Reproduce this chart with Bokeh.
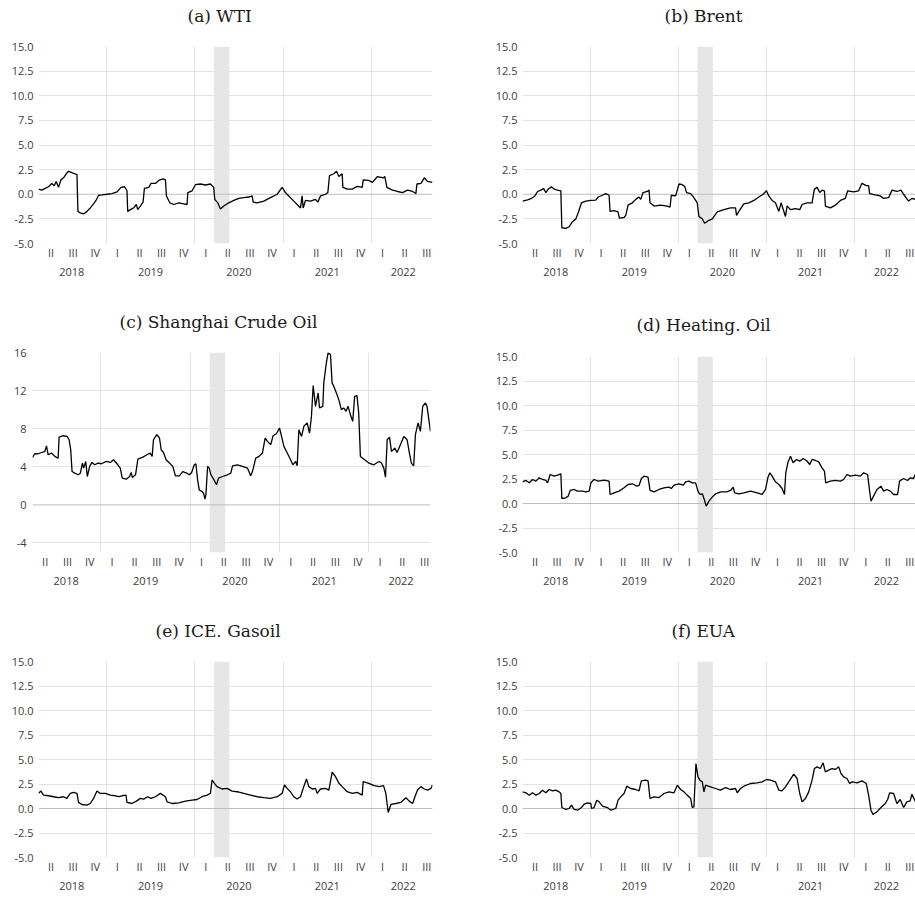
from bokeh.plotting import figure
from bokeh.layouts import column, row
from bokeh.models import (Range1d, FixedTicker, LinearAxis, CustomJSTickFormatter,
                          NumeralTickFormatter, BoxAnnotation, Span, Title)
from bokeh.embed import file_html
from bokeh.resources import INLINE

# ---------------- data ----------------
X_START, X_END = 2018.233, 2022.69
COVID_START, COVID_END = 2020.218, 2020.392

quarter_ticks = [2018.375, 2018.625, 2018.875, 2019.125, 2019.375, 2019.625, 2019.875,
                 2020.125, 2020.375, 2020.625, 2020.875, 2021.125, 2021.375, 2021.625,
                 2021.875, 2022.125, 2022.375, 2022.625]
quarter_labels = ["II", "III", "IV", "I", "II", "III", "IV", "I", "II", "III", "IV",
                  "I", "II", "III", "IV", "I", "II", "III"]
year_ticks = [2018.61, 2019.5, 2020.5, 2021.5, 2022.36]
year_labels = ["2018", "2019", "2020", "2021", "2022"]
year_bounds = [2019, 2020, 2021, 2022]

std_yticks = [-5.0, -2.5, 0.0, 2.5, 5.0, 7.5, 10.0, 12.5, 15.0]
std_ygrid = [-2.5, 2.5, 5.0, 7.5, 10.0, 12.5]
sc_yticks = [-4, 0, 4, 8, 12, 16]
sc_ygrid = [-4, 4, 8, 12]

wti = [(2018.233,0.52),(2018.271,0.42),(2018.309,0.60),(2018.346,0.76),(2018.384,1.10),(2018.411,0.87),(2018.433,1.30),(2018.460,0.70),(2018.486,1.46),(2018.516,1.67),(2018.547,2.08),(2018.573,2.33),(2018.611,2.19),(2018.668,2.00),(2018.679,-1.74),(2018.705,-1.90),(2018.743,-2.00),(2018.781,-1.74),(2018.819,-1.39),(2018.856,-0.97),(2018.883,-0.63),(2018.913,-0.10),(2018.951,-0.07),(2019.008,0.00),(2019.064,0.07),(2019.121,0.24),(2019.166,0.70),(2019.208,0.76),(2019.234,0.35),(2019.242,-1.74),(2019.272,-1.56),(2019.310,-1.39),(2019.340,-1.04),(2019.355,-1.56),(2019.385,-1.20),(2019.416,-0.80),(2019.431,0.60),(2019.480,0.70),(2019.506,1.10),(2019.555,1.10),(2019.593,1.40),(2019.642,1.56),(2019.669,1.46),(2019.680,-0.17),(2019.718,-0.87),(2019.763,-1.04),(2019.820,-0.87),(2019.876,-0.97),(2019.914,-1.04),(2019.922,0.17),(2019.971,0.35),(2020.008,0.97),(2020.064,1.04),(2020.121,0.94),(2020.178,1.04),(2020.215,0.70),(2020.227,-0.52),(2020.261,-0.87),(2020.291,-1.49),(2020.329,-1.20),(2020.385,-0.87),(2020.442,-0.63),(2020.499,-0.42),(2020.555,-0.35),(2020.612,-0.28),(2020.650,-0.17),(2020.661,-0.80),(2020.706,-0.87),(2020.782,-0.70),(2020.857,-0.35),(2020.933,0.00),(2020.989,0.70),(2021.026,0.17),(2021.064,-0.17),(2021.121,-0.70),(2021.159,-1.04),(2021.197,-1.39),(2021.215,-0.17),(2021.227,-1.39),(2021.253,-0.63),(2021.310,-0.70),(2021.366,-0.52),(2021.393,-0.80),(2021.423,-0.17),(2021.480,0.00),(2021.506,0.17),(2021.525,1.90),(2021.574,2.08),(2021.604,2.33),(2021.631,1.80),(2021.668,2.08),(2021.676,0.70),(2021.725,0.52),(2021.782,0.52),(2021.838,0.80),(2021.895,0.70),(2021.906,1.46),(2021.970,1.40),(2022.011,1.20),(2022.068,1.80),(2022.136,1.67),(2022.151,1.80),(2022.174,0.70),(2022.238,0.42),(2022.295,0.28),(2022.351,0.17),(2022.408,0.42),(2022.465,0.28),(2022.502,0.07),(2022.514,1.04),(2022.559,1.10),(2022.597,1.67),(2022.634,1.30),(2022.690,1.20)]

brent = [(2018.233,-0.69),(2018.291,-0.56),(2018.328,-0.45),(2018.374,-0.17),(2018.404,0.28),(2018.442,0.42),(2018.472,0.59),(2018.498,0.17),(2018.525,0.52),(2018.562,0.76),(2018.592,0.52),(2018.630,0.42),(2018.668,0.35),(2018.679,-3.40),(2018.725,-3.47),(2018.762,-3.30),(2018.800,-2.78),(2018.838,-2.50),(2018.868,-1.80),(2018.902,-0.87),(2018.951,-0.69),(2019.008,-0.63),(2019.064,-0.59),(2019.091,-0.28),(2019.140,-0.10),(2019.177,0.07),(2019.215,-0.10),(2019.226,-1.74),(2019.272,-1.67),(2019.317,-1.80),(2019.332,-2.43),(2019.385,-2.36),(2019.404,-2.15),(2019.430,-1.11),(2019.479,-0.87),(2019.517,-0.52),(2019.555,-0.28),(2019.574,-0.52),(2019.600,0.17),(2019.649,0.28),(2019.668,0.42),(2019.679,-0.87),(2019.725,-1.20),(2019.800,-1.11),(2019.875,-1.20),(2019.906,-1.32),(2019.921,-0.10),(2019.970,-0.17),(2020.008,1.04),(2020.045,0.97),(2020.072,0.80),(2020.094,0.17),(2020.140,0.07),(2020.177,-0.35),(2020.215,-0.87),(2020.234,-2.26),(2020.272,-2.50),(2020.298,-2.95),(2020.336,-2.71),(2020.385,-2.50),(2020.442,-1.80),(2020.517,-1.56),(2020.592,-1.39),(2020.649,-1.39),(2020.660,-2.15),(2020.687,-1.74),(2020.743,-0.97),(2020.800,-0.87),(2020.857,-0.63),(2020.913,-0.28),(2020.962,0.00),(2021.000,0.35),(2021.026,-0.17),(2021.064,-0.63),(2021.102,-0.87),(2021.140,-1.74),(2021.166,-0.87),(2021.215,-2.26),(2021.234,-1.20),(2021.272,-1.56),(2021.328,-1.46),(2021.377,-1.56),(2021.404,-1.04),(2021.460,-0.87),(2021.517,-0.87),(2021.543,0.52),(2021.574,0.70),(2021.604,0.17),(2021.630,0.42),(2021.657,0.35),(2021.668,-1.20),(2021.725,-1.39),(2021.781,-1.11),(2021.838,-0.63),(2021.894,-0.42),(2021.921,0.35),(2021.989,0.24),(2022.045,0.35),(2022.083,1.11),(2022.132,0.87),(2022.158,0.87),(2022.170,0.07),(2022.234,-0.07),(2022.291,-0.17),(2022.328,-0.42),(2022.385,-0.35),(2022.423,0.42),(2022.479,0.28),(2022.525,0.42),(2022.555,0.00),(2022.611,-0.69),(2022.649,-0.42),(2022.690,-0.52)]

shanghai = [(2018.233,4.98),(2018.259,5.37),(2018.297,5.37),(2018.334,5.50),(2018.371,5.60),(2018.390,6.20),(2018.408,5.26),(2018.445,5.44),(2018.483,5.09),(2018.520,4.90),(2018.531,7.12),(2018.576,7.26),(2018.620,7.19),(2018.643,6.84),(2018.661,5.79),(2018.676,3.50),(2018.706,3.33),(2018.743,3.16),(2018.769,3.33),(2018.792,4.39),(2018.806,3.86),(2018.829,4.56),(2018.847,2.98),(2018.873,4.04),(2018.900,4.46),(2018.929,4.21),(2018.967,4.39),(2019.004,4.32),(2019.060,4.56),(2019.104,4.46),(2019.141,4.74),(2019.179,4.32),(2019.216,3.86),(2019.238,2.81),(2019.283,2.70),(2019.320,2.98),(2019.339,3.40),(2019.350,2.88),(2019.387,3.16),(2019.413,4.81),(2019.469,5.02),(2019.514,5.26),(2019.551,5.44),(2019.573,5.09),(2019.588,6.84),(2019.625,7.37),(2019.655,7.02),(2019.674,5.79),(2019.700,5.50),(2019.729,4.74),(2019.767,4.39),(2019.804,4.04),(2019.834,3.05),(2019.878,3.05),(2019.916,3.50),(2019.960,3.33),(2019.990,3.16),(2020.015,3.40),(2020.045,4.21),(2020.063,4.32),(2020.082,2.63),(2020.100,1.58),(2020.130,1.40),(2020.149,1.23),(2020.164,0.60),(2020.175,1.05),(2020.194,4.04),(2020.212,3.86),(2020.231,3.16),(2020.261,2.70),(2020.294,2.11),(2020.316,2.81),(2020.361,2.98),(2020.417,3.16),(2020.454,3.33),(2020.473,4.10),(2020.528,4.21),(2020.584,4.04),(2020.640,3.86),(2020.677,3.05),(2020.696,3.50),(2020.733,4.91),(2020.770,5.09),(2020.808,5.44),(2020.838,7.02),(2020.864,6.67),(2020.901,6.32),(2020.927,7.26),(2020.964,7.47),(2021.000,8.07),(2021.022,7.19),(2021.048,6.14),(2021.086,5.44),(2021.123,4.74),(2021.149,4.21),(2021.179,4.56),(2021.197,4.10),(2021.216,7.89),(2021.246,7.19),(2021.272,8.25),(2021.309,8.60),(2021.335,7.54),(2021.357,9.30),(2021.376,12.53),(2021.402,10.35),(2021.432,11.75),(2021.447,10.18),(2021.484,10.35),(2021.495,12.81),(2021.521,14.74),(2021.543,15.96),(2021.570,15.79),(2021.588,12.81),(2021.607,12.46),(2021.633,11.82),(2021.663,11.05),(2021.692,10.00),(2021.718,10.18),(2021.744,9.82),(2021.767,10.35),(2021.793,9.47),(2021.819,8.77),(2021.841,11.40),(2021.867,11.47),(2021.886,9.65),(2021.905,5.09),(2021.942,4.81),(2022.000,4.39),(2022.056,4.21),(2022.112,4.56),(2022.141,4.39),(2022.167,3.86),(2022.186,2.91),(2022.205,6.84),(2022.231,7.12),(2022.253,5.61),(2022.290,5.96),(2022.316,5.50),(2022.353,6.32),(2022.391,7.19),(2022.428,6.84),(2022.454,5.44),(2022.476,4.39),(2022.502,4.10),(2022.521,7.37),(2022.551,8.60),(2022.577,7.72),(2022.603,10.35),(2022.633,10.70),(2022.651,10.35),(2022.690,7.72)]

heating_oil = [(2018.233,2.21),(2018.272,2.35),(2018.309,2.11),(2018.347,2.45),(2018.385,2.28),(2018.423,2.62),(2018.460,2.45),(2018.498,2.35),(2018.517,2.11),(2018.547,2.96),(2018.592,2.79),(2018.630,2.89),(2018.668,3.03),(2018.679,0.51),(2018.725,0.58),(2018.751,0.75),(2018.774,1.33),(2018.819,1.43),(2018.857,1.26),(2018.913,1.26),(2018.951,1.19),(2018.989,1.26),(2019.008,2.11),(2019.045,2.45),(2019.091,2.28),(2019.158,2.38),(2019.215,2.28),(2019.226,0.92),(2019.272,1.09),(2019.328,1.26),(2019.385,1.60),(2019.430,1.94),(2019.479,2.01),(2019.528,1.77),(2019.555,1.84),(2019.581,2.55),(2019.611,2.79),(2019.657,2.69),(2019.679,1.33),(2019.725,1.19),(2019.781,1.43),(2019.838,1.60),(2019.894,1.67),(2019.921,1.53),(2019.951,1.87),(2020.008,2.01),(2020.057,1.87),(2020.083,2.21),(2020.121,2.28),(2020.158,2.11),(2020.196,2.11),(2020.223,1.26),(2020.245,0.92),(2020.272,0.99),(2020.291,0.51),(2020.317,-0.27),(2020.347,0.24),(2020.385,0.65),(2020.423,0.99),(2020.479,1.19),(2020.547,1.19),(2020.592,1.33),(2020.623,1.67),(2020.638,1.09),(2020.687,0.99),(2020.743,1.09),(2020.819,1.26),(2020.894,1.09),(2020.951,0.92),(2020.989,1.43),(2021.015,2.62),(2021.038,3.13),(2021.064,2.79),(2021.102,2.21),(2021.140,1.94),(2021.177,1.53),(2021.204,0.92),(2021.219,3.13),(2021.242,4.15),(2021.272,4.83),(2021.302,4.15),(2021.340,4.49),(2021.377,4.32),(2021.415,4.59),(2021.453,4.39),(2021.491,3.98),(2021.517,4.49),(2021.555,4.39),(2021.592,4.25),(2021.630,3.64),(2021.657,3.30),(2021.672,2.11),(2021.725,2.28),(2021.781,2.35),(2021.838,2.28),(2021.875,2.45),(2021.913,2.96),(2021.951,2.79),(2022.008,2.89),(2022.064,2.79),(2022.102,3.13),(2022.147,2.96),(2022.170,1.26),(2022.185,0.24),(2022.215,0.75),(2022.253,1.43),(2022.298,1.77),(2022.328,1.26),(2022.366,1.43),(2022.404,1.26),(2022.442,0.92),(2022.487,0.92),(2022.509,2.28),(2022.555,2.55),(2022.600,2.35),(2022.630,2.62),(2022.668,2.55),(2022.690,3.03)]

gasoil = [(2018.233,1.54),(2018.260,1.78),(2018.290,1.37),(2018.346,1.30),(2018.403,1.20),(2018.460,1.10),(2018.516,1.20),(2018.554,1.03),(2018.592,1.54),(2018.630,1.64),(2018.668,1.54),(2018.686,0.62),(2018.724,0.41),(2018.781,0.34),(2018.819,0.51),(2018.856,1.03),(2018.894,1.78),(2018.932,1.54),(2018.989,1.54),(2019.045,1.37),(2019.102,1.30),(2019.140,1.20),(2019.178,1.30),(2019.223,1.37),(2019.234,0.62),(2019.291,0.51),(2019.340,0.75),(2019.385,1.03),(2019.423,0.96),(2019.468,1.20),(2019.506,1.03),(2019.555,1.20),(2019.612,1.54),(2019.669,1.20),(2019.688,0.68),(2019.744,0.51),(2019.820,0.58),(2019.895,0.75),(2019.971,0.86),(2020.026,0.92),(2020.083,1.20),(2020.140,1.37),(2020.178,1.54),(2020.196,2.91),(2020.223,2.57),(2020.253,2.23),(2020.310,1.99),(2020.366,2.05),(2020.423,1.78),(2020.480,1.71),(2020.555,1.54),(2020.631,1.37),(2020.706,1.20),(2020.782,1.10),(2020.857,1.03),(2020.933,1.20),(2020.989,1.54),(2021.015,2.40),(2021.045,2.05),(2021.083,1.71),(2021.121,1.20),(2021.159,0.96),(2021.197,1.20),(2021.227,2.05),(2021.264,3.01),(2021.291,2.23),(2021.329,1.99),(2021.366,2.05),(2021.385,1.54),(2021.423,1.99),(2021.480,2.05),(2021.518,1.88),(2021.555,3.70),(2021.593,3.25),(2021.631,2.57),(2021.668,2.23),(2021.725,1.71),(2021.782,1.54),(2021.838,1.64),(2021.895,1.37),(2021.906,2.74),(2021.970,2.57),(2022.030,2.33),(2022.087,2.23),(2022.136,2.33),(2022.162,1.54),(2022.189,-0.41),(2022.219,0.41),(2022.276,0.51),(2022.332,0.62),(2022.389,1.10),(2022.427,0.75),(2022.465,0.51),(2022.491,1.20),(2022.521,1.88),(2022.559,2.23),(2022.597,1.99),(2022.634,1.88),(2022.672,2.05),(2022.690,2.40)]

eua = [(2018.233,1.70),(2018.272,1.60),(2018.309,1.36),(2018.347,1.60),(2018.385,1.36),(2018.423,1.53),(2018.460,1.87),(2018.498,1.60),(2018.536,1.94),(2018.574,1.80),(2018.611,1.87),(2018.649,1.70),(2018.668,1.53),(2018.679,0.10),(2018.725,-0.10),(2018.762,0.00),(2018.789,0.34),(2018.819,-0.10),(2018.857,-0.17),(2018.902,0.10),(2018.932,0.44),(2018.970,0.58),(2019.008,0.51),(2019.015,0.00),(2019.045,0.10),(2019.075,0.85),(2019.102,0.68),(2019.140,0.24),(2019.196,0.10),(2019.234,-0.17),(2019.291,0.00),(2019.317,0.85),(2019.347,1.19),(2019.385,1.53),(2019.415,2.28),(2019.460,2.04),(2019.517,1.94),(2019.555,1.80),(2019.581,2.82),(2019.630,2.89),(2019.657,2.82),(2019.679,1.02),(2019.725,1.19),(2019.781,1.12),(2019.838,1.53),(2019.894,1.70),(2019.951,1.60),(2019.989,2.38),(2020.026,1.94),(2020.064,1.70),(2020.140,1.02),(2020.158,0.10),(2020.177,0.17),(2020.200,4.59),(2020.223,3.23),(2020.245,2.89),(2020.272,2.72),(2020.291,1.70),(2020.309,2.38),(2020.366,2.21),(2020.423,2.04),(2020.479,1.87),(2020.536,2.14),(2020.592,1.94),(2020.649,2.04),(2020.668,1.60),(2020.706,2.04),(2020.743,2.28),(2020.819,2.55),(2020.894,2.62),(2020.951,2.72),(2021.000,2.96),(2021.045,2.89),(2021.102,2.72),(2021.140,1.87),(2021.177,1.80),(2021.215,2.21),(2021.253,2.72),(2021.309,3.50),(2021.347,3.06),(2021.377,1.53),(2021.404,0.68),(2021.442,1.02),(2021.479,1.70),(2021.517,2.89),(2021.543,4.08),(2021.574,4.25),(2021.611,4.08),(2021.642,4.66),(2021.668,3.74),(2021.706,3.91),(2021.743,4.08),(2021.781,3.98),(2021.819,4.25),(2021.845,3.57),(2021.875,3.23),(2021.913,3.06),(2021.943,2.55),(2021.970,2.72),(2022.026,2.62),(2022.083,2.82),(2022.132,2.55),(2022.158,1.36),(2022.185,-0.17),(2022.208,-0.61),(2022.253,-0.34),(2022.298,0.10),(2022.347,0.51),(2022.374,0.92),(2022.396,1.60),(2022.442,1.53),(2022.479,0.51),(2022.517,0.92),(2022.555,0.10),(2022.592,0.68),(2022.630,0.78),(2022.649,1.46),(2022.690,0.68)]

# ---------------- styling ----------------
TICK_FONT = "Open Sans"
TICK_COLOR = "#404040"
GRID_COLOR = "#e3e3e3"
ZERO_COLOR = "#bdbdbd"
BAND_COLOR = "#e6e6e6"

q_fmt = CustomJSTickFormatter(args=dict(qpos=quarter_ticks, qlab=quarter_labels), code="""
for (let i = 0; i < qpos.length; i++) { if (Math.abs(qpos[i] - tick) < 1e-6) { return qlab[i]; } }
return "";
""")
y_fmt_code = """
for (let i = 0; i < ypos.length; i++) { if (Math.abs(ypos[i] - tick) < 1e-6) { return ylab[i]; } }
return "";
"""


def style_axis(ax):
    ax.axis_line_color = None
    ax.major_tick_line_color = None
    ax.minor_tick_line_color = None
    ax.major_tick_out = 0
    ax.major_tick_in = 0
    ax.minor_tick_out = 0
    ax.minor_tick_in = 0
    ax.major_label_text_font = TICK_FONT
    ax.major_label_text_font_size = "11px"
    ax.major_label_text_color = TICK_COLOR


def make_panel(title, pairs, ylo, yhi, yticks, ygrid, yfmt, width, height,
               bl, br, bt, bb, title_offset, title_gap, y_standoff):
    xs = [pt[0] for pt in pairs]
    ys = [pt[1] for pt in pairs]
    p = figure(width=width, height=height, x_range=Range1d(X_START, X_END),
               y_range=Range1d(ylo, yhi), output_backend="svg", toolbar_location=None,
               tools="", min_border_left=bl, min_border_right=br, min_border_top=bt,
               min_border_bottom=bb, outline_line_color=None,
               background_fill_color="white", border_fill_color="white")

    p.title.text = title
    p.title.align = "left"
    p.title.offset = title_offset
    p.title.standoff = 0
    p.title.text_font = "DejaVu Serif"
    p.title.text_font_size = "17px"
    p.title.text_font_style = "normal"
    p.title.text_color = "#1a1a1a"
    # invisible spacer between the title and the plot frame
    spacer = Title(text=" ", text_font_size="1px", standoff=title_gap, text_color="white")
    p.add_layout(spacer, "above")

    # quarter axis (existing below axis)
    qax = p.xaxis[0]
    qax.ticker = FixedTicker(ticks=quarter_ticks)
    qax.formatter = q_fmt
    style_axis(qax)
    qax.major_label_standoff = 1

    # year axis
    yax_fmt = CustomJSTickFormatter(args=dict(ypos=year_ticks, ylab=year_labels), code=y_fmt_code)
    year_axis = LinearAxis(ticker=FixedTicker(ticks=year_ticks), formatter=yax_fmt)
    style_axis(year_axis)
    year_axis.major_label_standoff = 5
    p.add_layout(year_axis, "below")

    # y axis
    vax = p.yaxis[0]
    vax.ticker = FixedTicker(ticks=yticks)
    vax.formatter = NumeralTickFormatter(format=yfmt)
    style_axis(vax)
    vax.major_label_standoff = y_standoff

    # grids
    p.xgrid.ticker = FixedTicker(ticks=year_bounds)
    p.xgrid.grid_line_color = GRID_COLOR
    p.ygrid.ticker = FixedTicker(ticks=ygrid)
    p.ygrid.grid_line_color = GRID_COLOR

    band = BoxAnnotation(left=COVID_START, right=COVID_END, fill_color=BAND_COLOR,
                         fill_alpha=1.0, line_color=None, level="underlay")
    p.add_layout(band)
    zero = Span(location=0, dimension="width", line_color=ZERO_COLOR, line_width=1,
                level="underlay")
    p.add_layout(zero)

    p.line(xs, ys, line_color="black", line_width=1.3)
    return p


LW, RW = 488, 427
H1, H2, H3 = 300, 300, 297

a = make_panel("(a) WTI", wti, -5, 15, std_yticks, std_ygrid, "0.0", LW, H1,
               38, 56, 46, 57, 149, 18, 5)
b = make_panel("(b) Brent", brent, -5, 15, std_yticks, std_ygrid, "0.0", RW, H1,
               34, 0, 46, 57, 142, 18, 5)
c = make_panel("(c) Shanghai Crude Oil", shanghai, -5, 16, sc_yticks, sc_ygrid, "0", LW, H2,
               32, 58, 52, 48, 87, 17.5, 6)
d = make_panel("(d) Heating. Oil", heating_oil, -5, 15, std_yticks, std_ygrid, "0.0", RW, H2,
               34, 0, 56, 48, 114, 18.5, 5)
e = make_panel("(e) ICE. Gasoil", gasoil, -5, 15, std_yticks, std_ygrid, "0.0", LW, H3,
               38, 56, 61, 40, 117, 18, 5)
f = make_panel("(f) EUA", eua, -5, 15, std_yticks, std_ygrid, "0.0", RW, H3,
               34, 0, 61, 40, 149, 18, 5)

# each figure wrapped in its own column so that frames are not aligned across a row
layout = column(row(column(a), column(b)), row(column(c), column(d)),
                row(column(e), column(f)))

open("out.html", "w").write(file_html(layout, INLINE))
